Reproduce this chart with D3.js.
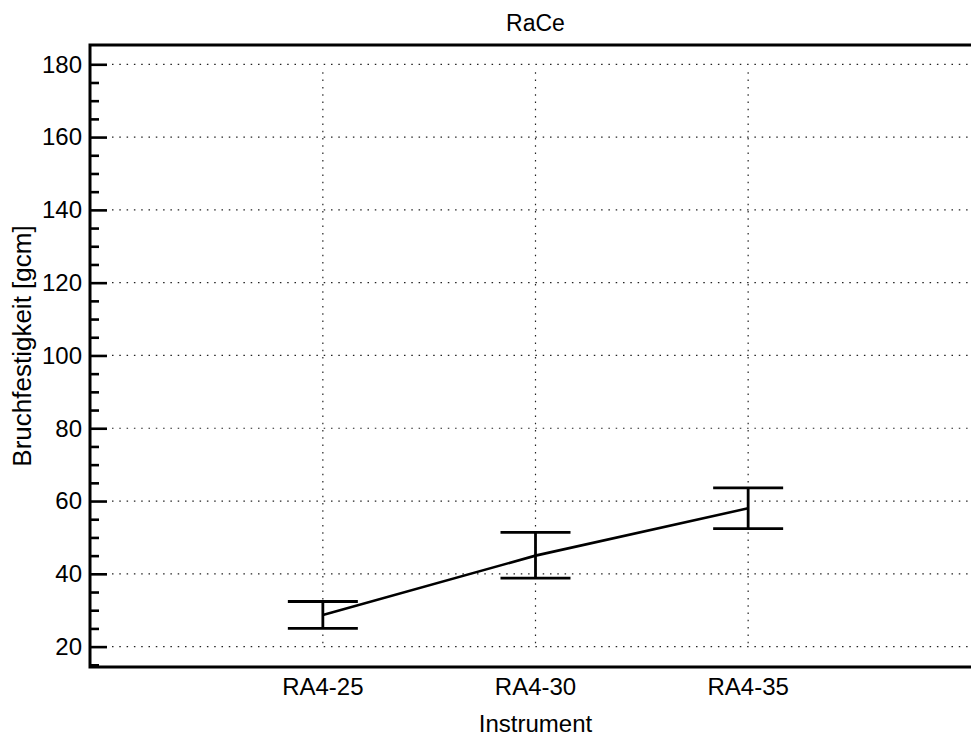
<!DOCTYPE html>
<html lang="de">
<head>
  <meta charset="UTF-8" />
  <title>RaCe</title>
  <script src="https://d3js.org/d3.v7.min.js"></script>
  <style>
    body { margin: 0; background: #fff; overflow: hidden; }
    svg { display: block; overflow: hidden; font-family: Arial, "Liberation Sans", sans-serif; }
  </style>
</head>
<body>
  <svg width="971" height="738"></svg>
  <script>
    // data
    const instruments = ["RA4-25", "RA4-30", "RA4-35"];
    const means = [28.7, 45.0, 58.0];
    const upper = [32.4, 51.4, 63.6];
    const lower = [25.0, 38.8, 52.4];
    const majorTicks = [20, 40, 60, 80, 100, 120, 140, 160, 180];

    const data = instruments.map((d, i) => ({ name: d, mean: means[i], hi: upper[i], lo: lower[i] }));

    // plot box (right edge runs past the window, as in the original)
    const plotL = 90, plotR = 981, plotT = 45, plotB = 667;

    const svg = d3.select("svg");

    const x = d3.scalePoint()
      .domain(instruments)
      .range([plotL, plotR])
      .padding(1.095);

    const y = d3.scaleLinear()
      .domain([14.4, 185.3])
      .range([plotB, plotT]);

    const minorTicks = d3.range(15, 185, 5).filter(v => v % 20 !== 0);

    // horizontal dotted grid
    svg.append("g")
      .selectAll("line")
      .data(majorTicks)
      .join("line")
      .attr("x1", plotL + 22)
      .attr("x2", plotR)
      .attr("y1", d => y(d))
      .attr("y2", d => y(d))
      .attr("stroke", "#222")
      .attr("stroke-width", 1.2)
      .attr("stroke-dasharray", "1.5,5.8");

    // vertical dotted grid
    svg.append("g")
      .selectAll("line")
      .data(instruments)
      .join("line")
      .attr("x1", d => x(d))
      .attr("x2", d => x(d))
      .attr("y1", y(180) + 8)
      .attr("y2", y(20))
      .attr("stroke", "#222")
      .attr("stroke-width", 1.2)
      .attr("stroke-dasharray", "1.5,5.8");

    // y axis ticks point inward
    svg.append("g")
      .attr("transform", `translate(${plotL},0)`)
      .call(d3.axisRight(y).tickValues(majorTicks).tickSize(17).tickFormat(""))
      .call(g => g.select(".domain").remove())
      .call(g => g.selectAll("line").attr("stroke", "#000").attr("stroke-width", 2.6));

    svg.append("g")
      .attr("transform", `translate(${plotL},0)`)
      .call(d3.axisRight(y).tickValues(minorTicks).tickSize(9).tickFormat(""))
      .call(g => g.select(".domain").remove())
      .call(g => g.selectAll("line").attr("stroke", "#000").attr("stroke-width", 2.6));

    // y tick labels
    svg.append("g")
      .selectAll("text")
      .data(majorTicks)
      .join("text")
      .attr("x", plotL - 8)
      .attr("y", d => y(d))
      .attr("dy", "0.35em")
      .attr("text-anchor", "end")
      .attr("font-size", 24)
      .text(d => d);

    // x tick labels
    svg.append("g")
      .selectAll("text")
      .data(instruments)
      .join("text")
      .attr("x", d => x(d))
      .attr("y", 695)
      .attr("text-anchor", "middle")
      .attr("font-size", 24)
      .text(d => d);

    // frame: left, top, bottom (no right side, it is off the page)
    svg.append("path")
      .attr("d", `M${plotR + 60},${plotT}H${plotL}V${plotB}H${plotR + 60}`)
      .attr("fill", "none")
      .attr("stroke", "#000")
      .attr("stroke-width", 3);

    // mean line
    svg.append("path")
      .datum(data)
      .attr("fill", "none")
      .attr("stroke", "#000")
      .attr("stroke-width", 2.6)
      .attr("d", d3.line().x(d => x(d.name)).y(d => y(d.mean)));

    // error bars
    const cap = 35;
    const bars = svg.append("g")
      .selectAll("g")
      .data(data)
      .join("g")
      .attr("stroke", "#000")
      .attr("stroke-width", 2.8);
    bars.append("line")
      .attr("x1", d => x(d.name)).attr("x2", d => x(d.name))
      .attr("y1", d => y(d.hi)).attr("y2", d => y(d.lo));
    bars.append("line")
      .attr("x1", d => x(d.name) - cap).attr("x2", d => x(d.name) + cap)
      .attr("y1", d => y(d.hi)).attr("y2", d => y(d.hi));
    bars.append("line")
      .attr("x1", d => x(d.name) - cap).attr("x2", d => x(d.name) + cap)
      .attr("y1", d => y(d.lo)).attr("y2", d => y(d.lo));

    // titles
    svg.append("text")
      .attr("x", (plotL + plotR) / 2)
      .attr("y", 31)
      .attr("text-anchor", "middle")
      .attr("font-size", 23)
      .text("RaCe");

    svg.append("text")
      .attr("x", (plotL + plotR) / 2)
      .attr("y", 732)
      .attr("text-anchor", "middle")
      .attr("font-size", 24)
      .text("Instrument");

    svg.append("text")
      .attr("transform", `translate(31,346) rotate(-90)`)
      .attr("text-anchor", "middle")
      .attr("font-size", 26)
      .text("Bruchfestigkeit [gcm]");
  </script>
</body>
</html>
